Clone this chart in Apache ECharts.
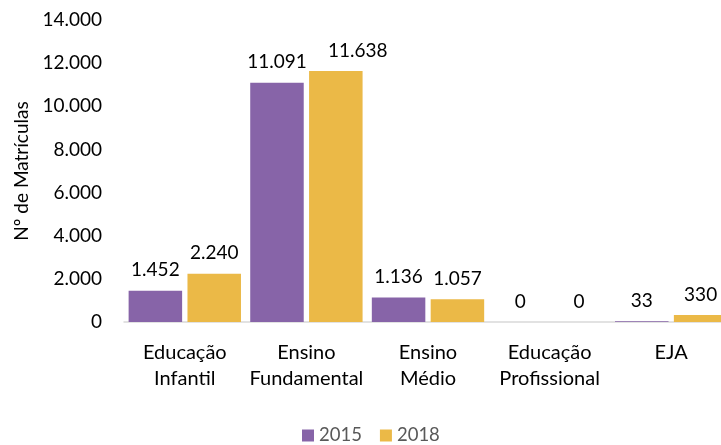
<!DOCTYPE html>
<html>
<head>
<meta charset="utf-8">
<script src="https://cdn.jsdelivr.net/npm/echarts@6/dist/echarts.min.js"></script>
<style>html,body{margin:0;padding:0;background:#fff}#c{width:721px;height:445px}</style>
</head>
<body>
<div id="c"></div>
<script>
const categories = ['Educação\nInfantil', 'Ensino\nFundamental', 'Ensino\nMédio', 'Educação\nProfissional', 'EJA'];
const series2015 = [1452, 11091, 1136, 0, 33];
const series2018 = [2240, 11638, 1057, 0, 330];
const yTicks = { min: 0, max: 14000, interval: 2000 };

const fmt = v => Number(v).toLocaleString('pt-BR');
const FONT = 'Lato';
const chart = echarts.init(document.getElementById('c'));
const labelCfg = {
  show: true, position: 'top', distance: 11,
  color: '#000', fontFamily: FONT, fontSize: 19,
  formatter: p => fmt(p.value)
};
// the 2018 label of "Ensino Fundamental" is nudged right in the original
const data2018 = series2018.map((v, i) => i === 1 ? { value: v, label: { offset: [22, 0] } } : v);
chart.setOption({
  animation: false,
  textStyle: { fontFamily: FONT },
  grid: { left: 124, width: 608, top: 20, bottom: 123, outerBoundsMode: 'none', containLabel: false },
  legend: {
    left: 297, top: 421,
    itemWidth: 12, itemHeight: 12, itemGap: 18,
    icon: 'rect',
    textStyle: { color: '#595959', fontSize: 18.5, fontFamily: FONT },
    data: ['2015', '2018']
  },
  xAxis: {
    type: 'category', data: categories,
    axisLine: { lineStyle: { color: '#d9d9d9', width: 1.5 } },
    axisTick: { show: false },
    axisLabel: { color: '#000', fontSize: 20, fontFamily: FONT, lineHeight: 26, margin: 18, interval: 0 }
  },
  yAxis: {
    type: 'value', min: yTicks.min, max: yTicks.max, interval: yTicks.interval,
    name: 'Nº de Matrículas', nameLocation: 'middle', nameGap: 92, nameRotate: 90,
    nameTextStyle: { color: '#000', fontSize: 19, fontFamily: FONT },
    splitLine: { show: false },
    axisLine: { show: false }, axisTick: { show: false },
    axisLabel: { color: '#000', fontSize: 19, fontFamily: FONT, margin: 22, formatter: v => fmt(v) }
  },
  series: [
    { name: '2015', type: 'bar', data: series2015, barWidth: '44%', barGap: '10%',
      itemStyle: { color: '#8764a8' }, label: labelCfg },
    { name: '2018', type: 'bar', data: data2018, barWidth: '44%', barGap: '10%',
      itemStyle: { color: '#ebb947' }, label: labelCfg }
  ]
});
</script>
</body>
</html>
